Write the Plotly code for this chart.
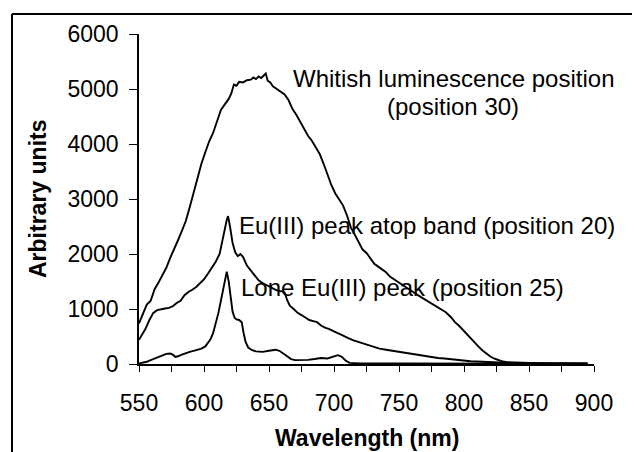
import plotly.graph_objects as go

# ---- data ----
wl_white = [550, 553, 556, 559, 562, 565, 568, 571, 574, 577, 580, 583, 586, 589, 592, 595, 598, 601, 604, 607,
            610, 613, 616, 619, 621, 623, 625, 627, 630, 633, 636, 638, 640, 642, 644, 646, 647.5, 649, 651, 653,
            656, 659, 662, 665, 668, 671, 674, 677, 680, 683, 686, 689, 692, 695, 698, 701, 704, 707, 710, 713,
            716, 719, 722, 725, 728, 731, 734, 737, 740, 743, 746, 750, 754, 758, 762, 766, 770, 774, 778, 782,
            786, 790, 793, 796, 799, 802, 805, 808, 811, 814, 817, 820, 823, 826, 829, 833, 840, 850, 860, 870,
            880, 890, 895]
val_white = [740, 900, 1080, 1150, 1360, 1480, 1620, 1750, 1930, 2080, 2250, 2420, 2600, 2850, 3120, 3400, 3640, 3850, 4050, 4200,
             4420, 4620, 4720, 4820, 4920, 5080, 5060, 5130, 5120, 5160, 5170, 5210, 5180, 5230, 5200, 5250, 5280, 5150, 5120, 5050,
             5000, 4960, 4900, 4800, 4640, 4530, 4400, 4290, 4150, 4060, 3950, 3820, 3640, 3450, 3250, 3100, 2990, 2880, 2700, 2480,
             2350, 2200, 2080, 2020, 1920, 1820, 1770, 1720, 1670, 1590, 1540, 1480, 1420, 1350, 1290, 1230, 1170, 1110, 1060, 1000,
             940, 850, 760, 700, 620, 550, 470, 390, 320, 250, 190, 140, 100, 70, 50, 35, 25, 20, 15, 15,
             12, 10, 10]

wl_band = [550, 552, 555, 558, 561, 564, 567, 570, 573, 576, 579, 582, 585, 588, 591, 594, 597, 600, 603, 606,
           609, 612, 614, 616, 617.5, 618.5, 620, 622, 624, 626, 628, 630, 633, 636, 639, 642, 645, 648, 651, 654,
           657, 660, 662, 664, 666, 669, 672, 675, 678, 681, 684, 687, 690, 693, 696, 699, 702, 705, 708, 711,
           715, 720, 725, 730, 735, 740, 745, 750, 755, 760, 765, 770, 775, 780, 785, 790, 795, 800, 805, 810,
           815, 820, 825, 830, 840, 850, 870, 895]
val_band = [440, 520, 640, 800, 930, 980, 1000, 1010, 1020, 1050, 1110, 1150, 1250, 1310, 1350, 1400, 1470, 1540, 1640, 1740,
            1860, 2000, 2200, 2450, 2620, 2690, 2500, 2200, 2030, 1960, 2000, 1950, 1790, 1700, 1610, 1520, 1470, 1440, 1400, 1360,
            1330, 1320, 1300, 1160, 1060, 1000, 930, 890, 850, 800, 780, 760, 700, 660, 640, 600, 570, 540, 500, 470,
            430, 390, 350, 320, 280, 260, 240, 220, 200, 180, 160, 150, 130, 110, 100, 85, 70, 60, 50, 45,
            40, 30, 20, 15, 12, 10, 8, 8]

wl_lone = [550, 553, 556, 559, 562, 565, 568, 571, 574, 576, 578, 580, 583, 586, 589, 592, 595, 598, 601, 603,
           605, 607, 609, 611, 613, 615, 616.5, 617.5, 619, 620.5, 622, 623.5, 625, 627, 629, 630.5, 632, 634, 637, 640,
           645, 650, 655, 658, 661, 664, 667, 670, 675, 680, 685, 690, 695, 700, 703, 706, 709, 712, 720, 750,
           800, 850, 895]
val_lone = [10, 20, 40, 70, 100, 130, 160, 185, 190, 170, 130, 140, 170, 200, 220, 240, 260, 280, 320, 380,
            450, 560, 720, 920, 1150, 1400, 1600, 1680, 1500, 1250, 950, 840, 810, 800, 760, 560, 400, 300, 250, 230,
            220, 240, 260, 240, 190, 130, 90, 70, 70, 75, 90, 110, 100, 130, 160, 130, 60, 20, 10, 8,
            6, 5, 5]

x_tickvals = [550, 600, 650, 700, 750, 800, 850, 900]
y_tickvals = [0, 1000, 2000, 3000, 4000, 5000, 6000]

FONT = "Liberation Sans, Arial, sans-serif"

fig = go.Figure()
for xs, ys in [(wl_white, val_white), (wl_band, val_band), (wl_lone, val_lone)]:
    fig.add_trace(go.Scatter(x=xs, y=ys, mode="lines",
                             line=dict(color="black", width=1.9), showlegend=False,
                             hoverinfo="skip"))

fig.update_layout(
    width=636, height=452,
    margin=dict(l=139, r=42, t=34, b=88),
    paper_bgcolor="white", plot_bgcolor="white",
    font=dict(family=FONT, color="black"),
    showlegend=False,
)
fig.update_xaxes(
    range=[550, 900], tickvals=x_tickvals, ticktext=[str(v) for v in x_tickvals],
    showgrid=False, zeroline=False, showline=True, linecolor="black", linewidth=1.5,
    ticks="outside", ticklen=6, tickwidth=1.3, tickcolor="black",
    minor=dict(dtick=25, tick0=550, ticks="outside", ticklen=6, tickwidth=1.3, tickcolor="black", showgrid=False),
    tickfont=dict(size=23, family=FONT, color="black"), ticklabelstandoff=12,
)
fig.update_yaxes(
    range=[0, 6000], tickvals=y_tickvals, ticktext=[str(v) for v in y_tickvals],
    showgrid=False, zeroline=False, showline=True, linecolor="black", linewidth=1.5,
    ticks="outside", ticklen=8, tickwidth=1.3, tickcolor="black",
    tickfont=dict(size=23, family=FONT, color="black"), ticklabelstandoff=6,
)

# axis titles
fig.add_annotation(text="<b>Wavelength (nm)</b>", xref="paper", yref="paper", x=0.5, y=-0.224,
                   xanchor="center", yanchor="middle", showarrow=False, font=dict(size=23, family=FONT))
fig.add_annotation(text="<b>Arbitrary units</b>", xref="paper", yref="paper", x=-0.222, y=0.5,
                   xanchor="center", yanchor="middle", textangle=-90, showarrow=False,
                   font=dict(size=23, family=FONT))

# curve labels
fig.add_annotation(text="Whitish luminescence position", x=791.9, y=5200, xanchor="center", yanchor="middle",
                   showarrow=False, font=dict(size=24, family=FONT))
fig.add_annotation(text="(position 30)", x=791.9, y=4691, xanchor="center", yanchor="middle",
                   showarrow=False, font=dict(size=24, family=FONT))
fig.add_annotation(text="Eu(III) peak atop band (position 20)", x=625, y=2527, xanchor="left", yanchor="middle",
                   showarrow=False, font=dict(size=24, family=FONT))
fig.add_annotation(text="Lone Eu(III) peak (position 25)", x=626.9, y=1382, xanchor="left", yanchor="middle",
                   showarrow=False, font=dict(size=24, family=FONT))

# outer frame (top and left edges visible)
fig.add_shape(type="line", xref="paper", yref="paper", x0=-0.2791, x1=1.0835, y0=1.0606, y1=1.0606,
              line=dict(color="black", width=2))
fig.add_shape(type="line", xref="paper", yref="paper", x0=-0.2791, x1=-0.2791, y0=-0.27, y1=1.0606,
              line=dict(color="black", width=2))

fig.write_html("out.html", config={"displayModeBar": False},
               post_script="document.body.style.margin='0';document.body.style.overflow='hidden';")
